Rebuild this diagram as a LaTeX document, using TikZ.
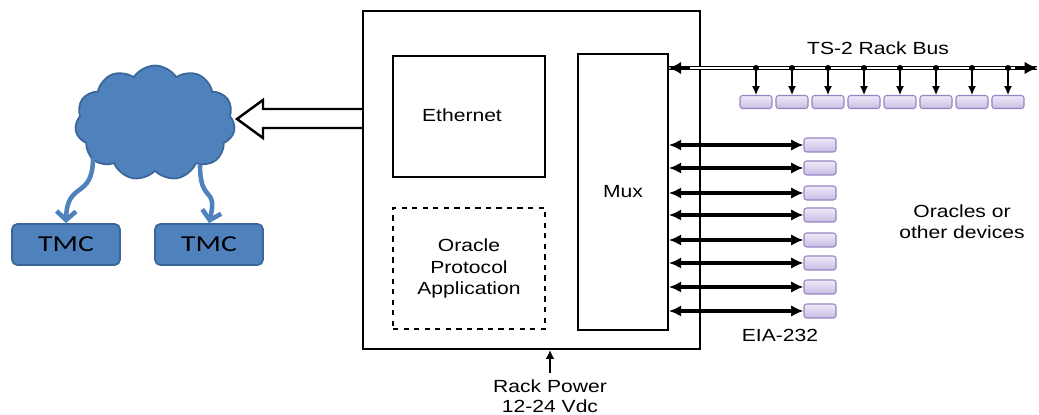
\documentclass[tikz,border=0pt]{standalone}
\usepackage{fontspec}
\setmainfont{Liberation Sans}[FakeStretch=1.2]
\newfontfamily\tmcfont{Carlito}[FakeStretch=1.3]
\usetikzlibrary{shapes.symbols,arrows.meta}

\definecolor{cloudblue}{HTML}{4F81BD}
\definecolor{cloudedge}{HTML}{3A6699}
\definecolor{porttop}{HTML}{EEE9F8}
\definecolor{portbottom}{HTML}{C9BDE3}
\definecolor{portedge}{HTML}{9585C4}

\tikzset{
  block/.style={draw, line width=1pt, minimum width=3.04cm, minimum height=2.42cm, align=center},
  tmcbox/.style={draw=cloudedge, fill=cloudblue, line width=1pt, rounded corners=3pt, minimum width=2.16cm, minimum height=0.82cm, font=\tmcfont\fontsize{13}{15}\selectfont},
  port/.style={draw=portedge, line width=0.6pt, rounded corners=1.5pt, top color=porttop, bottom color=portbottom, minimum width=0.64cm, minimum height=0.26cm, inner sep=0pt},
  serial/.style={{Latex[length=7pt,width=6.5pt]}-{Latex[length=7pt,width=6.5pt]}, line width=2pt},
  tap/.style={-{Latex[length=5pt,width=4.5pt]}, line width=0.7pt},
  lan/.style={draw=cloudblue, line width=2.6pt, -{Straight Barb[length=5pt,width=11pt]}}
}

\begin{document}
\begin{tikzpicture}[x=0.02cm,y=-0.02cm,font=\fontsize{10}{12.2}\selectfont]
    \useasboundingbox (0,0) rectangle (1039,415);

    % Controller box with its three parts
    \node[draw, line width=1.2pt, minimum width=6.74cm, minimum height=6.76cm] (outer) at (531.5,180) {};
    \node[block] (ethernet) at (469,116.5) {};
    \node at (462,115) {Ethernet};
    \node[block, dashed] (oracle) at (469,268.5) {Oracle\\ Protocol\\ Application};
    \node[draw, line width=1pt, minimum width=1.8cm, minimum height=5.52cm] (mux) at (623,192) {Mux};

    % Network cloud and TMCs
    \node[cloud, cloud puffs=11, cloud puff arc=115, aspect=1.45, draw=cloudedge, fill=cloudblue, line width=1pt, minimum width=3.2cm, minimum height=2.3cm] (cloud) at (155,123) {};
    \node[tmcbox] (tmc1) at (66,244.5) {TMC};
    \node[tmcbox] (tmc2) at (209,244.5) {TMC};
    \draw[lan] (93,158) .. controls (93,200) and (67,180) .. (tmc1.north);
    \draw[lan] (200,165) .. controls (200,205) and (218,185) .. (tmc2.north);

    % Hollow arrow from the controller to the cloud
    \draw[line width=1.4pt, fill=white] (outer.west |- 0,109) -- (263,109) -- (263,100) -- (237,119) -- (263,138) -- (263,128) -- (outer.west |- 0,128);

    % TS-2 rack bus with its taps
    \coordinate (busL) at (mux.east |- 0,68);
    \coordinate (busR) at (1037,68);
    \draw[double, double distance=1.4pt, line width=0.6pt] (busL) -- (busR);
    \draw[-{Latex[length=7pt,width=7pt]}, line width=0.6pt] (690,68) -- (busL);
    \draw[-{Latex[length=7pt,width=7pt]}, line width=0.6pt] (1015,68) -- (busR);
    \node (busname) at (878,48) {TS-2 Rack Bus};
    \foreach \i in {0,...,7} {
        \pgfmathsetmacro\bx{756+36*\i}
        \coordinate (tap\i) at (\bx,68);
        \node[port] (bus\i) at (\bx,102) {};
        \fill (tap\i) circle (1.7pt);
        \draw[tap] (tap\i) -- (bus\i.north);
    }

    % EIA-232 serial ports
    \foreach \y [count=\i] in {145,168,193,215,240,263,287,311} {
        \node[port, minimum height=0.28cm] (eia\i) at (820,\y) {};
        \draw[serial] (mux.east |- eia\i.west) -- (eia\i.west);
    }
    \node (eianame) at (780,335) {EIA-232};
    \node[align=center] (devices) at (962,222) {Oracles or\\ other devices};

    % Rack power
    \node[align=center, font=\fontsize{10}{11.5}\selectfont] (power) at (550,396) {Rack Power\\ 12-24 Vdc};
    \draw[-{Latex[length=5pt,width=5pt]}, line width=1.4pt] (power.north) -- (power.north |- outer.south);
\end{tikzpicture}
\end{document}
